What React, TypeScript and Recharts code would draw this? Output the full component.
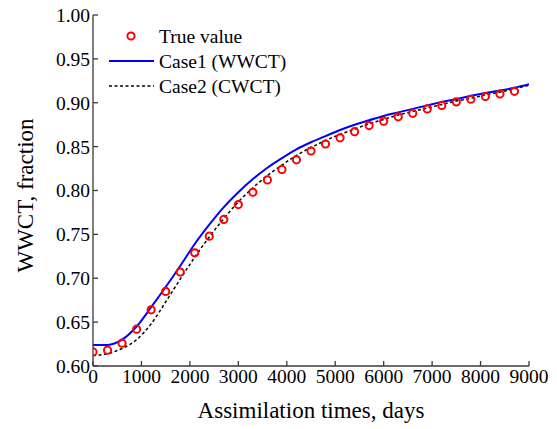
import React from 'react';
import { ComposedChart, Line, Scatter, XAxis, YAxis, Legend } from 'recharts';

const days = [0, 300, 600, 900, 1200, 1500, 1800, 2100, 2400, 2700, 3000, 3300, 3600, 3900, 4200, 4500, 4800, 5100, 5400, 5700, 6000, 6300, 6600, 6900, 7200, 7500, 7800, 8100, 8400, 8700, 9000];
const trueValue = [0.616, 0.618, 0.626, 0.642, 0.664, 0.685, 0.707, 0.729, 0.748, 0.767, 0.784, 0.798, 0.812, 0.824, 0.835, 0.845, 0.853, 0.860, 0.867, 0.874, 0.879, 0.884, 0.888, 0.893, 0.897, 0.901, 0.904, 0.907, 0.910, 0.913];
const case1 = [0.624, 0.624, 0.630, 0.645, 0.667, 0.690, 0.714, 0.739, 0.761, 0.781, 0.798, 0.813, 0.826, 0.837, 0.847, 0.855, 0.862, 0.869, 0.875, 0.880, 0.885, 0.889, 0.893, 0.897, 0.901, 0.904, 0.908, 0.911, 0.914, 0.917, 0.921];
const case2 = [0.612, 0.614, 0.620, 0.630, 0.648, 0.673, 0.699, 0.724, 0.747, 0.768, 0.787, 0.803, 0.817, 0.829, 0.840, 0.849, 0.857, 0.864, 0.870, 0.876, 0.881, 0.886, 0.890, 0.894, 0.898, 0.902, 0.905, 0.909, 0.912, 0.916, 0.920];
const xTicks = [0, 1000, 2000, 3000, 4000, 5000, 6000, 7000, 8000, 9000];
const yTicks = [0.6, 0.65, 0.7, 0.75, 0.8, 0.85, 0.9, 0.95, 1.0];
const seriesNames = ['True value', 'Case1 (WWCT)', 'Case2 (CWCT)'];

const lineData = days.map((d, i) => ({ days: d, case1: case1[i], case2: case2[i] }));
const scatterData = trueValue.map((v, i) => ({ days: days[i], truth: v }));

const FONT = '"Liberation Serif", "Times New Roman", serif';
const AXIS = '#3a3a3a';
const tickStyle = { fontSize: 19.5, fill: '#000', fontFamily: FONT };

const RingShape = (props: any) => {
  const { cx, cy } = props;
  if (cx == null || cy == null) return null;
  return <circle cx={cx} cy={cy} r={3.6} fill="none" stroke="#ff0000" strokeWidth={2} />;
};

const LegendBox = () => (
  <svg width={160} height={80} style={{ display: 'block', overflow: 'visible' }}>
    <circle cx={31} cy={16} r={3.6} fill="none" stroke="#ff0000" strokeWidth={2} />
    <text x={59} y={23} fontSize={19.5} fontFamily={FONT} fill="#000">{seriesNames[0]}</text>
    <line x1={9} y1={41} x2={54} y2={41} stroke="#0000ff" strokeWidth={2} />
    <text x={59} y={48} fontSize={19.5} fontFamily={FONT} fill="#000">{seriesNames[1]}</text>
    <line x1={9} y1={66} x2={54} y2={66} stroke="#000" strokeWidth={1.5} strokeDasharray="3 2.5" />
    <text x={59} y={73} fontSize={19.5} fontFamily={FONT} fill="#000">{seriesNames[2]}</text>
  </svg>
);

const XTitle = (props: any) => {
  const vb = props.viewBox || {};
  return (
    <text x={vb.x + vb.width / 2} y={vb.y + 52} textAnchor="middle" fontSize={23} fontFamily={FONT} fill="#000">
      Assimilation times, days
    </text>
  );
};

const YTitle = (props: any) => {
  const vb = props.viewBox || {};
  const x = vb.x;
  const y = vb.y + vb.height / 2 + 5;
  return (
    <text x={x} y={y} transform={`rotate(-90, ${x}, ${y})`} textAnchor="middle" fontSize={23} fontFamily={FONT} fill="#000">
      WWCT, fraction
    </text>
  );
};

export default function App() {
  return (
    <div style={{ position: 'absolute', left: 0, top: 0, width: 557, height: 429, background: '#fff', fontFamily: FONT }}>
      <ComposedChart width={557} height={429} data={lineData} margin={{ top: 15, right: 28, bottom: 33, left: 33 }}>
        <XAxis
          xAxisId={0}
          dataKey="days"
          type="number"
          domain={[0, 9000]}
          ticks={xTicks}
          interval={0}
          height={30}
          tickSize={-5}
          tickMargin={8}
          tick={tickStyle}
          stroke={AXIS}
          strokeWidth={1.3}
          allowDataOverflow
          label={<XTitle />}
        />
        <XAxis
          xAxisId="top"
          orientation="top"
          dataKey="days"
          type="number"
          domain={[0, 9000]}
          ticks={xTicks}
          interval={0}
          height={0}
          tickSize={-5}
          tickFormatter={() => ''}
          stroke={AXIS}
          strokeWidth={1.3}
        />
        <YAxis
          yAxisId={0}
          type="number"
          domain={[0.6, 1.0]}
          ticks={yTicks}
          interval={0}
          width={60}
          tickSize={-5}
          tickMargin={8}
          tick={tickStyle}
          tickFormatter={(v: number) => v.toFixed(2)}
          stroke={AXIS}
          strokeWidth={1.3}
          allowDataOverflow
          label={<YTitle />}
        />
        <YAxis
          yAxisId="right"
          orientation="right"
          type="number"
          domain={[0.6, 1.0]}
          ticks={yTicks}
          interval={0}
          width={0}
          tickSize={-5}
          tickFormatter={() => ''}
          stroke={AXIS}
          strokeWidth={1.3}
        />
        <Legend
          layout="horizontal"
          verticalAlign="middle"
          align="center"
          content={<LegendBox />}
          wrapperStyle={{ position: 'absolute', left: 100, top: 20, width: 160, height: 80 }}
        />
        <Line
          type="monotone"
          dataKey="case1"
          name={seriesNames[1]}
          stroke="#0000ff"
          strokeWidth={2}
          dot={false}
          activeDot={false}
          isAnimationActive={false}
        />
        <Line
          type="monotone"
          dataKey="case2"
          name={seriesNames[2]}
          stroke="#000000"
          strokeWidth={1.5}
          strokeDasharray="3 2.5"
          dot={false}
          activeDot={false}
          isAnimationActive={false}
        />
        <Scatter
          data={scatterData}
          dataKey="truth"
          name={seriesNames[0]}
          shape={<RingShape />}
          isAnimationActive={false}
        />
      </ComposedChart>
    </div>
  );
}
